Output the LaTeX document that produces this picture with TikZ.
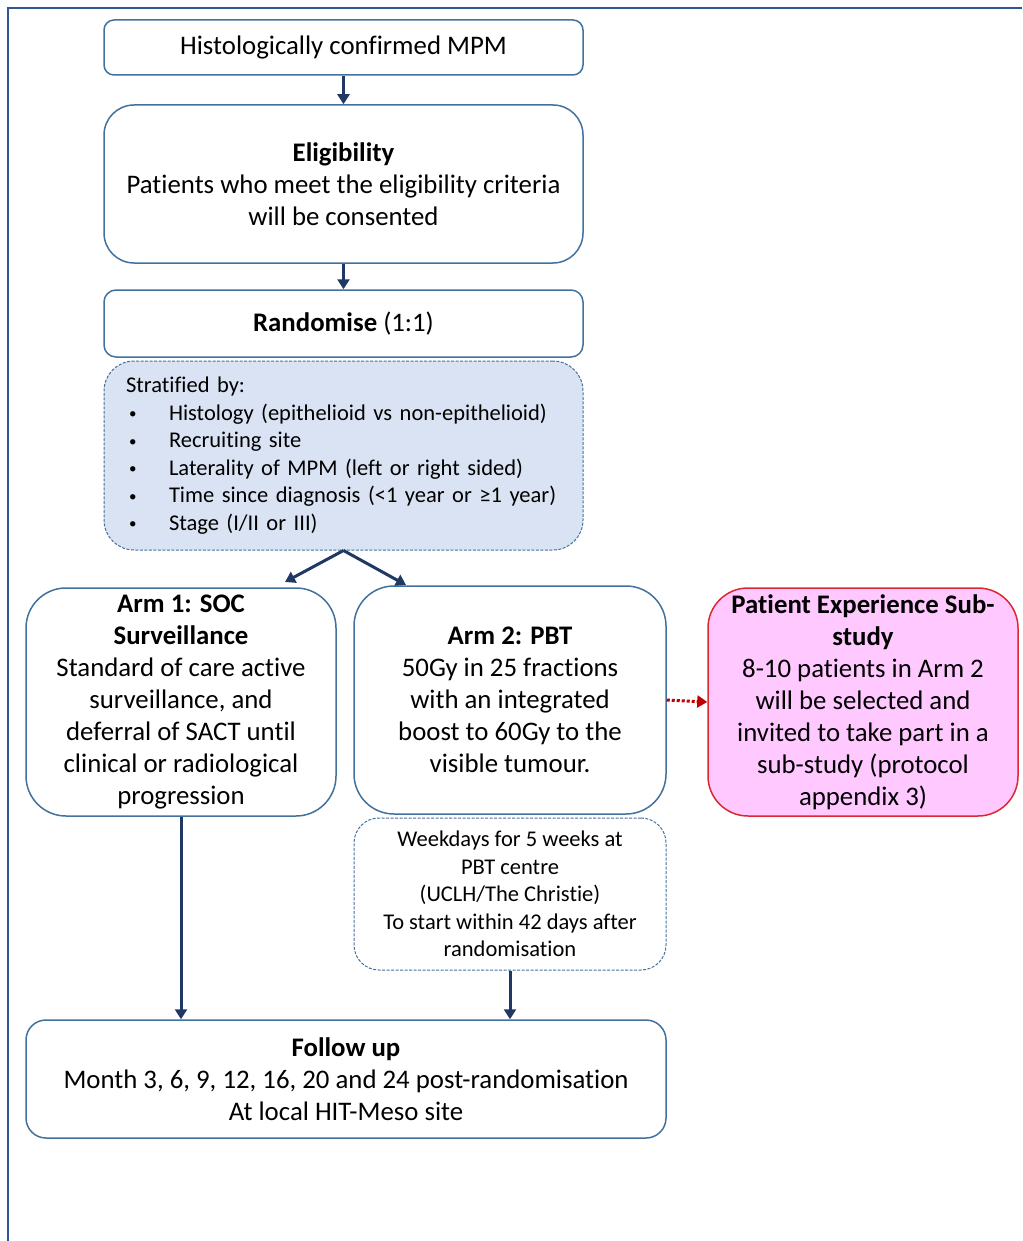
\documentclass[tikz,border=0pt]{standalone}
\usepackage{fontspec}
\setmainfont{Carlito}[Ligatures=NoCommon]
\usetikzlibrary{arrows.meta}
\definecolor{navy}{RGB}{31,56,100}
\definecolor{boxblue}{RGB}{65,113,156}
\definecolor{stratfill}{RGB}{218,227,243}
\definecolor{pinkfill}{RGB}{255,200,255}
\definecolor{redline}{RGB}{220,40,50}
\definecolor{darkred}{RGB}{192,0,0}
\definecolor{framecol}{RGB}{47,85,151}
\newcommand{\bigtxt}{\fontsize{26.8}{32}\selectfont}
\newcommand{\smalltxt}{\fontsize{22.5}{27.5}\selectfont}
\newcommand{\blt}{\hspace*{3pt}\makebox[40pt][l]{\fontsize{15}{15}\selectfont\raisebox{1.5pt}{\textbullet}}}
\begin{document}
\begin{tikzpicture}[x=1pt,y=-1pt,
  box/.style={draw=boxblue, line width=1.5pt, rounded corners=#1, align=center, inner sep=0pt, text=black, font=\bigtxt},
  box/.default=20pt,
  arr/.style={draw=navy, line width=3pt, -{Triangle[length=10pt,width=12pt]}},
  redarr/.style={draw=darkred, line width=3pt, dotted, -{Triangle[length=10pt,width=12pt]}},
  frameline/.style={draw=framecol, line width=2pt}]
\useasboundingbox (0,0) rectangle (1022,1241);
\draw[frameline] (8,1241) -- (8,8) -- (1022,8);

\node[box=10pt, minimum width=479pt, minimum height=55pt] (hist) at (343.5,47.5) {Histologically confirmed MPM};
\node[box=30pt, minimum width=479pt, minimum height=158pt] (elig) at (343.5,184) {\textbf{Eligibility}\\Patients who meet the eligibility criteria\\will be consented};
\node[box=12pt, minimum width=479pt, minimum height=67pt] (rand) at (343.5,323.5) {\textbf{Randomise} (1:1)};
\node[box=30pt, dashed, dash pattern=on 3pt off 1.5pt, line width=1pt, fill=stratfill, minimum width=479pt, minimum height=189pt, text width=435pt, align=left, font=\smalltxt] (strat) at (343.5,455.5) {Stratified by:\\
\blt Histology (epithelioid vs non-epithelioid)\\
\blt Recruiting site\\
\blt Laterality of MPM (left or right sided)\\
\blt Time since diagnosis (<1 year or ≥1 year)\\
\blt Stage (I/II or III)};

\node[box=40pt, minimum width=310pt, minimum height=228pt] (arm1) at (181,702) {\textbf{Arm 1: SOC}\\\textbf{Surveillance}\\Standard of care active\\surveillance, and\\deferral of SACT until\\clinical or radiological\\progression};
\node[box=40pt, minimum width=312pt, minimum height=228pt] (arm2) at (510,700) {\textbf{Arm 2: PBT}\\50Gy in 25 fractions\\with an integrated\\boost to 60Gy to the\\visible tumour.};
\node[box=40pt, draw=redline, fill=pinkfill, minimum width=310pt, minimum height=228pt] (sub) at (863,702) {\textbf{Patient Experience Sub-}\\\textbf{study}\\8-10 patients in Arm 2\\will be selected and\\invited to take part in a\\sub-study (protocol\\appendix 3)};
\node[box=25pt, dashed, dash pattern=on 3pt off 1.5pt, line width=1pt, minimum width=312pt, minimum height=152pt, font=\smalltxt] (week) at (510,894) {Weekdays for 5 weeks at\\PBT centre\\(UCLH/The Christie)\\To start within 42 days after\\randomisation};
\node[box=20pt, minimum width=640pt, minimum height=118pt] (follow) at (346,1079) {\textbf{Follow up}\\Month 3, 6, 9, 12, 16, 20 and 24 post-randomisation\\At local HIT-Meso site};

\coordinate (s1) at (285,582);
\coordinate (s2) at (406,585);
\draw[arr] (hist.south) -- (elig.north);
\draw[arr] (elig.south) -- (rand.north);
\draw[arr] (strat.south) -- (s1);
\draw[arr] (strat.south) -- (s2);
\draw[arr] (arm1.south) -- (arm1.south |- follow.north);
\draw[arr] (week.south) -- (week.south |- follow.north);
\draw[redarr] (arm2.east) -- (sub.west);
\end{tikzpicture}
\end{document}
